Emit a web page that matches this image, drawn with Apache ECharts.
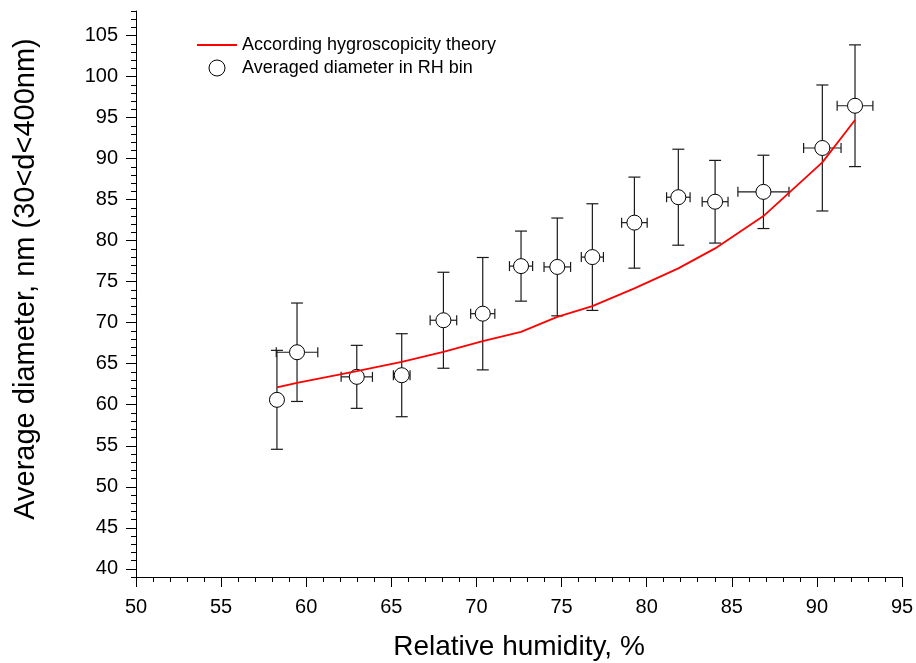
<!DOCTYPE html>
<html>
<head>
<meta charset="utf-8">
<script src="https://cdn.jsdelivr.net/npm/echarts@6/dist/echarts.min.js"></script>
<style>
html,body{margin:0;padding:0;background:#fff;}
#chart{width:916px;height:663px;}
</style>
</head>
<body>
<div id="chart"></div>
<script>
// Relative humidity bin centres (%)
const rh = [58.28, 59.46, 62.97, 65.61, 68.06, 70.37, 72.62, 74.75, 76.81, 79.28, 81.86, 84.02, 86.86, 90.32, 92.24];
// Horizontal error (half-width, %)
const rhErr = [0, 1.22, 0.92, 0.49, 0.78, 0.71, 0.68, 0.78, 0.65, 0.75, 0.69, 0.76, 1.5, 1.1, 1.05];
// Averaged diameter in RH bin (nm)
const diam = [60.6, 66.4, 63.4, 63.6, 70.3, 71.1, 76.9, 76.8, 78.0, 82.2, 85.3, 84.75, 85.95, 91.3, 96.45];
// Vertical error (half-height, nm)
const diamErr = [6.03, 6.0, 3.84, 5.06, 5.85, 6.85, 4.27, 5.96, 6.5, 5.55, 5.85, 5.04, 4.47, 7.68, 7.42];
// According hygroscopicity theory (nm)
const theory = [62.11, 62.67, 64.1, 65.23, 66.45, 67.76, 68.89, 70.72, 72.02, 74.18, 76.62, 79.06, 83.0, 89.55, 94.71];
// Tick labels
const xTicks = [50, 55, 60, 65, 70, 75, 80, 85, 90, 95];
const yTicks = [40, 45, 50, 55, 60, 65, 70, 75, 80, 85, 90, 95, 100, 105];

const yMinor = [];
for (let v = 39; v <= 108; v++) yMinor.push(v);

const FONT = 'Liberation Sans, Arial, sans-serif';
const errData = rh.map((x, i) => [x, diam[i], rhErr[i], diamErr[i]]);

const chart = echarts.init(document.getElementById('chart'), null, {renderer: 'canvas'});
chart.setOption({
  animation: false,
  backgroundColor: '#fff',
  grid: {left: 136, right: 14, top: 11, bottom: 86, containLabel: false, outerBoundsMode: 'none'},
  legend: {
    orient: 'vertical',
    left: 196,
    top: 36,
    padding: 0,
    itemWidth: 40,
    itemHeight: 16,
    itemGap: 5,
    textStyle: {fontFamily: FONT, fontSize: 18, color: '#000'},
    data: [
      {name: 'According hygroscopicity theory', itemStyle: {opacity: 0}},
      {name: 'Averaged diameter in RH bin', icon: 'circle', itemStyle: {color: '#fff', borderColor: '#000', borderWidth: 1}}
    ]
  },
  xAxis: {
    type: 'value',
    min: 50, max: 95, interval: 5,
    name: 'Relative humidity, %',
    nameLocation: 'middle',
    nameGap: 56,
    nameTextStyle: {fontFamily: FONT, fontSize: 28, color: '#000'},
    axisLine: {show: true, lineStyle: {color: '#000', width: 1}},
    axisTick: {show: true, inside: false, length: 10, lineStyle: {color: '#000'}},
    minorTick: {show: true, splitNumber: 5, length: 5, lineStyle: {color: '#000'}},
    axisLabel: {fontFamily: FONT, fontSize: 20, color: '#000', margin: 20,
      customValues: xTicks},
    splitLine: {show: false}
  },
  yAxis: [{
    type: 'value',
    min: 39, max: 108,
    name: 'Average diameter, nm (30<d<400nm)',
    nameLocation: 'middle',
    nameRotate: 90,
    nameGap: 96,
    nameTextStyle: {fontFamily: FONT, fontSize: 29, color: '#000', padding: [0, 0, 0, 30]},
    axisLine: {show: true, onZero: false, lineStyle: {color: '#000', width: 1}},
    axisTick: {show: true, inside: false, length: 10, customValues: yTicks, lineStyle: {color: '#000'}},
    axisLabel: {fontFamily: FONT, fontSize: 20, color: '#000', margin: 18, customValues: yTicks},
    splitLine: {show: false}
  }, {
    type: 'value',
    min: 39, max: 108,
    position: 'left',
    axisLine: {show: false},
    axisTick: {show: true, inside: false, length: 5, customValues: yMinor, lineStyle: {color: '#000'}},
    axisLabel: {show: false},
    splitLine: {show: false}
  }],
  series: [
    {
      type: 'custom',
      name: 'errors',
      z: 1,
      data: errData,
      encode: {x: 0, y: 1},
      renderItem: function (params, api) {
        const x = api.value(0), y = api.value(1), ex = api.value(2), ey = api.value(3);
        const top = api.coord([x, y + ey]);
        const bot = api.coord([x, y - ey]);
        const style = {stroke: '#1a1a1a', lineWidth: 1.2};
        const children = [
          {type: 'line', shape: {x1: top[0], y1: top[1], x2: bot[0], y2: bot[1]}, style: style},
          {type: 'line', shape: {x1: top[0] - 6, y1: top[1], x2: top[0] + 6, y2: top[1]}, style: style},
          {type: 'line', shape: {x1: bot[0] - 6, y1: bot[1], x2: bot[0] + 6, y2: bot[1]}, style: style}
        ];
        if (ex > 0) {
          const l = api.coord([x - ex, y]);
          const r = api.coord([x + ex, y]);
          children.push(
            {type: 'line', shape: {x1: l[0], y1: l[1], x2: r[0], y2: r[1]}, style: style},
            {type: 'line', shape: {x1: l[0], y1: l[1] - 5, x2: l[0], y2: l[1] + 5}, style: style},
            {type: 'line', shape: {x1: r[0], y1: r[1] - 5, x2: r[0], y2: r[1] + 5}, style: style}
          );
        }
        return {type: 'group', children: children};
      }
    },
    {
      type: 'scatter',
      name: 'Averaged diameter in RH bin',
      z: 2,
      symbol: 'circle',
      symbolSize: 15,
      itemStyle: {color: '#fff', borderColor: '#000', borderWidth: 1, opacity: 1},
      data: rh.map((x, i) => [x, diam[i]])
    },
    {
      type: 'line',
      name: 'According hygroscopicity theory',
      z: 3,
      showSymbol: false,
      symbol: 'none',
      lineStyle: {color: '#ff0000', width: 1.8},
      itemStyle: {color: '#ff0000'},
      data: rh.map((x, i) => [x, theory[i]])
    }
  ]
});
</script>
</body>
</html>
